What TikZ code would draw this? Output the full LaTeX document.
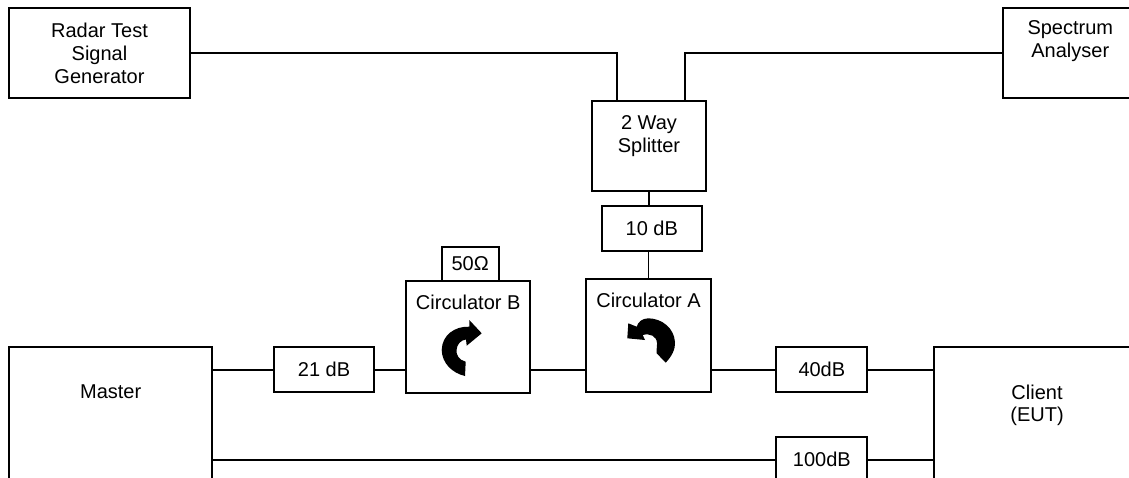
\documentclass[tikz,border=0pt]{standalone}
\usepackage{fontspec}
\setmainfont{Liberation Sans}
\usepackage{tikz}
\usetikzlibrary{positioning}

\begin{document}
\begin{tikzpicture}[
    x=1pt, y=-1pt,
    block/.style={
      rectangle, draw=black, line width=1.8pt, fill=white, inner sep=0pt, outer sep=0pt,
      align=center, font=\fontsize{20}{22.7}\selectfont
    },
    atten/.style={block, minimum width=100pt, minimum height=45pt},
    txt/.style={align=center, inner sep=0pt, font=\fontsize{20}{22.7}\selectfont},
    wire/.style={line width=1.8pt, color=black}
]
  \path[use as bounding box, clip] (0,0) rectangle (1129,477);

  % Top row
  \node[block, minimum width=181pt, minimum height=90pt] (radar) at (99.5,53.3)
    {Radar Test\\Signal\\Generator};
  \node[block, minimum width=200pt, minimum height=90pt, right=813pt of radar] (spectrum) {};
  \node[txt, below=12.3pt of spectrum.north, xshift=-32.7pt] (spectrumtext) {Spectrum\\Analyser};
  \node[block, minimum width=113.4pt, minimum height=90pt, right=402.3pt of radar, yshift=-92.4pt] (splitter) {};
  \node[txt, below=15pt of splitter.north] (splittertext) {2 Way\\Splitter};
  \node[atten, below=15.3pt of splitter, xshift=2.8pt] (tendb) {10 dB};

  % Bottom row
  \node[block, minimum width=203.3pt, minimum height=200pt, below=249pt of radar, xshift=11.2pt] (master) {};
  \node[txt, below=37pt of master.north] (mastertext) {Master};
  \node[atten, right=61.7pt of master, yshift=77.5pt] (twentyonedb) {21 dB};
  \node[block, minimum width=124.3pt, minimum height=112.6pt, right=32pt of twentyonedb, yshift=32.8pt] (circb) {};
  \node[txt, below=14pt of circb.north] (circbtext) {Circulator B};
  \node[block, minimum width=57pt, minimum height=34pt, above=0pt of circb, xshift=2pt] (fifty) {50Ω};
  \node[block, minimum width=125pt, minimum height=113pt, right=55.7pt of circb, yshift=1.2pt] (circa) {};
  \node[txt, below=14pt of circa.north] (circatext) {Circulator A};
  \node[atten, minimum width=91pt, right=65.3pt of circa, yshift=-34pt] (fortydb) {40dB};
  \node[atten, minimum width=91pt, below=45pt of fortydb] (hundreddb) {100dB};
  \node[block, minimum width=200pt, minimum height=200pt, right=67pt of fortydb, yshift=-77.5pt] (client) {};
  \node[txt, below=37pt of client.north, xshift=2.7pt] (clienttext) {Client\\(EUT)};

  \coordinate[xshift=-32.3pt] (splitin) at (splitter.north);
  \coordinate[xshift=35.7pt] (splitout) at (splitter.north);

  % Connectors
  \draw[wire] (radar.east) -| (splitin);
  \draw[wire] (spectrum.west) -| (splitout);
  \draw[wire] (splitter.south) -- (splitter.south |- tendb.north);
  \draw[wire] (circa.north) -- (circa.north |- tendb.south);
  \draw[wire] (twentyonedb.west -| master.east) -- (twentyonedb.west);
  \draw[wire] (twentyonedb.east) -- (twentyonedb.east -| circb.west);
  \draw[wire] (twentyonedb.east -| circb.east) -- (twentyonedb.east -| circa.west);
  \draw[wire] (fortydb.west -| circa.east) -- (fortydb.west);
  \draw[wire] (fortydb.east) -- (fortydb.east -| client.west);
  \draw[wire] (hundreddb.west -| master.east) -- (hundreddb.west);
  \draw[wire] (hundreddb.east) -- (hundreddb.east -| client.west);

  % Circulator arrows
  \fill (481.7,333.3) -- (469.3,320) -- (469.3,326.7)
    .. controls (455,326) and (442,335) .. (441.7,350)
    .. controls (442,363) and (452,373) .. (465,376)
    -- (465.7,361.7)
    .. controls (459,360) and (456,355) .. (456.5,350)
    .. controls (457,344) and (461,340) .. (466,339.5)
    -- (466.7,345.7) -- cycle;
  \fill (628.3,323.3) -- (627.3,338.3) -- (645,340) -- (642.7,335)
    .. controls (650,333) and (656.5,336) .. (657,343)
    .. controls (657.3,347) and (656,351) .. (656.7,353.3)
    -- (665.7,362.7)
    .. controls (672,356) and (675.5,349) .. (675,342)
    .. controls (674,328) and (662,318.5) .. (648.3,318.3)
    .. controls (642,318.5) and (638,322) .. (636.7,326.7) -- cycle;
\end{tikzpicture}
\end{document}
